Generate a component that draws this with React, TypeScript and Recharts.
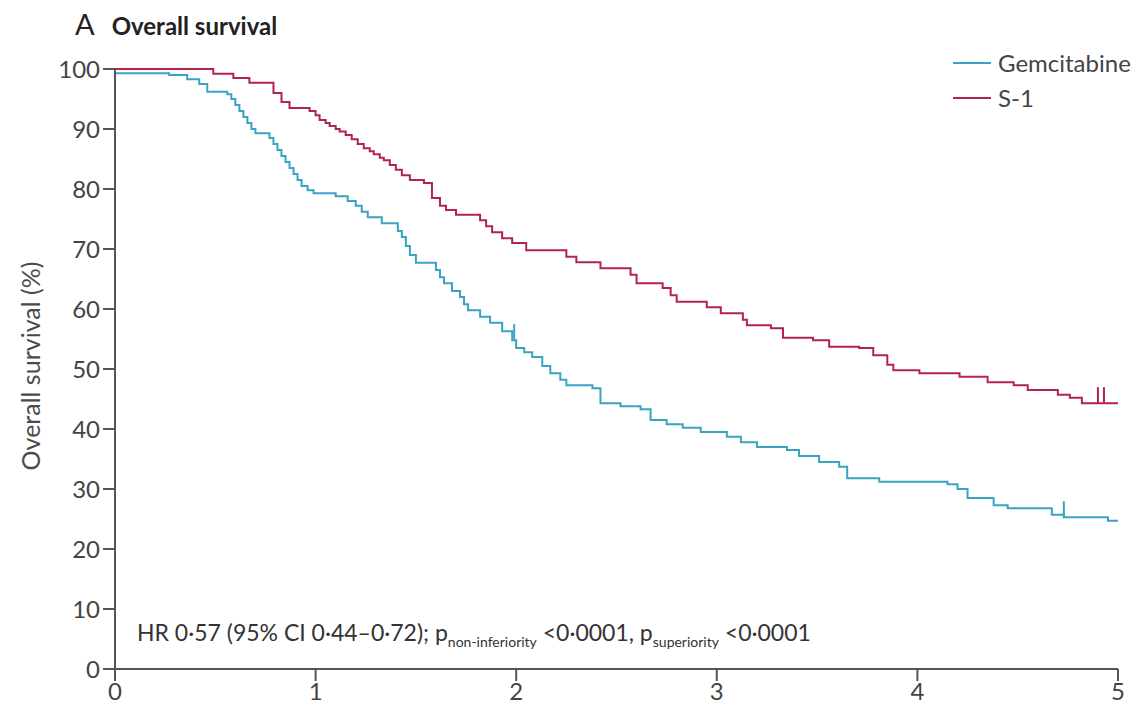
import { ComposedChart, Line, Scatter, XAxis, YAxis } from "recharts";

const gemTime = [
  0, 0.27, 0.36, 0.42, 0.46, 0.56, 0.58, 0.6, 0.62, 0.64, 0.66, 0.68, 0.7, 0.77,
  0.79, 0.81, 0.83, 0.85, 0.87, 0.89, 0.91, 0.93, 0.96, 0.99, 1.1, 1.16, 1.2,
  1.23, 1.26, 1.33, 1.41, 1.43, 1.45, 1.47, 1.5, 1.6, 1.62, 1.64, 1.68, 1.72,
  1.74, 1.76, 1.82, 1.87, 1.93, 1.98, 2.0, 2.04, 2.08, 2.13, 2.17, 2.22, 2.25,
  2.38, 2.42, 2.52, 2.62, 2.67, 2.75, 2.83, 2.92, 3.05, 3.12, 3.2, 3.35, 3.41,
  3.51, 3.61, 3.65, 3.81, 4.15, 4.2, 4.25, 4.38, 4.45, 4.67, 4.73, 4.95, 5.0,
];
const gemSurv = [
  99.3, 99.0, 98.3, 97.5, 96.2, 95.8, 95.0, 94.0, 93.0, 92.0, 91.0, 90.0, 89.3,
  88.5, 87.5, 86.5, 85.5, 84.5, 83.5, 82.5, 81.5, 80.5, 79.8, 79.3, 78.8, 78.0,
  77.2, 76.2, 75.3, 74.3, 73.0, 72.0, 70.5, 69.0, 67.7, 66.5, 65.3, 64.3, 63.0,
  62.0, 60.8, 59.8, 58.7, 57.7, 56.3, 54.8, 53.5, 52.8, 52.0, 50.5, 49.3, 48.2,
  47.3, 46.8, 44.3, 43.8, 43.3, 41.5, 40.8, 40.2, 39.5, 38.7, 37.8, 37.0, 36.5,
  35.5, 34.5, 33.7, 31.8, 31.2, 30.8, 30.0, 28.5, 27.3, 26.8, 25.7, 25.3, 24.7,
  24.7,
];

const s1Time = [
  0, 0.49, 0.59, 0.67, 0.79, 0.83, 0.87, 0.97, 1.0, 1.02, 1.05, 1.07, 1.1, 1.12,
  1.15, 1.18, 1.21, 1.24, 1.27, 1.29, 1.32, 1.34, 1.37, 1.4, 1.43, 1.47, 1.54,
  1.58, 1.62, 1.65, 1.7, 1.82, 1.85, 1.88, 1.93, 1.98, 2.05, 2.25, 2.3, 2.42,
  2.57, 2.6, 2.73, 2.77, 2.8, 2.95, 3.02, 3.13, 3.15, 3.27, 3.33, 3.48, 3.56,
  3.71, 3.78, 3.85, 3.88, 4.01, 4.21, 4.35, 4.48, 4.55, 4.7, 4.76, 4.82, 5.0,
];
const s1Surv = [
  100, 99.2, 98.5, 97.7, 96.0, 94.5, 93.5, 93.0, 92.3, 91.5, 91.0, 90.5, 90.0,
  89.6, 89.0, 88.3, 87.5, 86.8, 86.3, 85.8, 85.2, 84.8, 84.0, 83.2, 82.3, 81.5,
  81.0, 78.5, 77.2, 76.5, 75.7, 74.8, 73.8, 72.8, 71.8, 71.0, 69.8, 68.7, 67.8,
  66.8, 65.7, 64.3, 63.5, 62.3, 61.2, 60.3, 59.3, 58.2, 57.3, 56.8, 55.2, 54.8,
  53.7, 53.5, 52.3, 50.7, 49.8, 49.3, 48.7, 47.8, 47.3, 46.5, 45.7, 45.2, 44.3,
  44.3,
];

const gemCensorTime = [1.99, 4.73];
const gemCensorSurv = [54.8, 25.3];
const s1CensorTime = [4.9, 4.93];
const s1CensorSurv = [44.3, 44.3];

const xTicks = [0, 1, 2, 3, 4, 5];
const yTicks = [0, 10, 20, 30, 40, 50, 60, 70, 80, 90, 100];

const GEM = "#3aa2c2";
const S1 = "#b3244a";
const AXIS = "#555";
const FONT = "Lato, 'Open Sans', sans-serif";

const zip = (t: number[], s: number[]) => t.map((v, i) => ({ t: v, s: s[i] }));
const gemData = zip(gemTime, gemSurv);
const s1Data = zip(s1Time, s1Surv);
const gemCensor = zip(gemCensorTime, gemCensorSurv);
const s1Censor = zip(s1CensorTime, s1CensorSurv);

const censorMark = (color: string) => (p: any) => (
  <line x1={p.cx} x2={p.cx} y1={p.cy} y2={p.cy - 16} stroke={color} strokeWidth={2} />
);

const series = [
  { name: "Gemcitabine", color: GEM },
  { name: "S-1", color: S1 },
];

function KeyBox() {
  return (
    <div
      style={{
        position: "absolute",
        left: 953,
        top: 45,
        fontFamily: FONT,
        fontSize: 24,
        color: "#444",
      }}
    >
      {series.map((s) => (
        <div key={s.name} style={{ display: "flex", alignItems: "center", height: 35 }}>
          <span style={{ width: 38, height: 2, background: s.color, marginRight: 7 }} />
          {s.name}
        </div>
      ))}
    </div>
  );
}

export default function App() {
  const tickStyle = { fontSize: 24, fill: "#444", fontFamily: FONT };
  return (
    <div style={{ position: "absolute", left: 0, top: 0, width: 1137, height: 717, background: "#fff" }}>
      <div
        style={{
          position: "absolute",
          left: 75,
          top: 6,
          fontFamily: FONT,
          color: "#222",
          display: "flex",
          alignItems: "baseline",
        }}
      >
        <span style={{ fontSize: 29, marginRight: 17 }}>A</span>
        <span style={{ fontSize: 24, fontWeight: 700 }}>Overall survival</span>
      </div>
      <ComposedChart
        width={1137}
        height={717}
        margin={{ top: 69, right: 19, bottom: 0, left: 0 }}
      >
        <XAxis
          dataKey="t"
          type="number"
          domain={[0, 5]}
          ticks={xTicks}
          height={48}
          tickSize={12}
          stroke={AXIS}
          strokeWidth={2}
          tick={tickStyle}
          tickMargin={2}
          allowDuplicatedCategory={false}
        />
        <YAxis
          type="number"
          domain={[0, 100]}
          ticks={yTicks}
          width={115}
          tickSize={12}
          stroke={AXIS}
          strokeWidth={2}
          tick={tickStyle}
          tickMargin={3}
          label={{
            content: () => (
              <text
                x={30}
                y={366}
                transform="rotate(-90 30 366)"
                textAnchor="middle"
                dominantBaseline="central"
                style={{ fontSize: 25, fill: "#4a4a4a", fontFamily: FONT }}
              >
                Overall survival (%)
              </text>
            ),
          }}
        />
        <Line
          data={gemData}
          dataKey="s"
          name="Gemcitabine"
          type="stepAfter"
          stroke={GEM}
          strokeWidth={2}
          dot={false}
          isAnimationActive={false}
        />
        <Line
          data={s1Data}
          dataKey="s"
          name="S-1"
          type="stepAfter"
          stroke={S1}
          strokeWidth={2}
          dot={false}
          isAnimationActive={false}
        />
        <Scatter
          data={gemCensor}
          dataKey="s"
          shape={censorMark(GEM)}
          legendType="none"
          isAnimationActive={false}
        />
        <Scatter
          data={s1Censor}
          dataKey="s"
          shape={censorMark(S1)}
          legendType="none"
          isAnimationActive={false}
        />
      </ComposedChart>
      <KeyBox />
      <div
        style={{
          position: "absolute",
          left: 137,
          top: 618,
          fontFamily: FONT,
          fontSize: 23,
          color: "#333",
          whiteSpace: "nowrap",
        }}
      >
        HR 0·57 (95% CI 0·44–0·72); p<sub style={{ fontSize: 14 }}>non-inferiority</sub> &lt;0·0001, p
        <sub style={{ fontSize: 14 }}>superiority</sub> &lt;0·0001
      </div>
    </div>
  );
}
